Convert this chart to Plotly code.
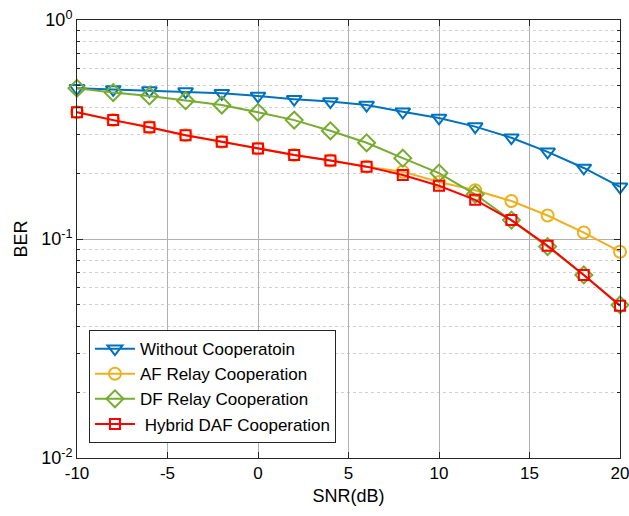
import plotly.graph_objects as go

snr = [-10, -8, -6, -4, -2, 0, 2, 4, 6, 8, 10, 12, 14, 16, 18, 20]
ber_without = [0.488, 0.482, 0.476, 0.471, 0.463, 0.450, 0.435, 0.424, 0.409, 0.381, 0.357, 0.326, 0.290, 0.250, 0.211, 0.173]
ber_af = [0.379, 0.349, 0.324, 0.298, 0.278, 0.259, 0.242, 0.228, 0.214, 0.203, 0.182, 0.167, 0.149, 0.128, 0.107, 0.0875]
ber_df = [0.488, 0.466, 0.450, 0.428, 0.409, 0.379, 0.349, 0.312, 0.275, 0.234, 0.200, 0.160, 0.122, 0.0923, 0.0685, 0.050]
ber_hybrid = [0.379, 0.349, 0.324, 0.298, 0.278, 0.259, 0.242, 0.228, 0.214, 0.196, 0.175, 0.151, 0.122, 0.0932, 0.0685, 0.0496]

names = ["Without Cooperatoin", "AF Relay Cooperation", "DF Relay Cooperation", " Hybrid DAF Cooperation"]
colors = ["#0072BD", "#EDB120", "#77AC30", "#FF0000"]
symbols = ["triangle-down-open", "circle-open", "diamond-open", "square-open"]
sizes = [13, 12, 13, 10]

x_ticks = [-10, -5, 0, 5, 10, 15, 20]
x_ticktext = ["-10", "-5", "0", "5", "10", "15", "20"]
y_ticks = [0.01, 0.1, 1]
y_ticktext = ["10<sup>-2</sup>", "10<sup>-1</sup>", "10<sup>0</sup>"]
y_minor = [m * 10 ** e for e in (-2, -1) for m in range(2, 10)]

fig = go.Figure()
for ys, nm, c, s, sz in zip([ber_without, ber_af, ber_df, ber_hybrid], names, colors, symbols, sizes):
    fig.add_trace(go.Scatter(
        x=snr, y=ys, name=nm, mode="lines+markers", cliponaxis=False,
        line=dict(color=c, width=2),
        marker=dict(symbol=s, size=sz, color=c, line=dict(width=2, color=c)),
    ))

font = "Liberation Sans, Arial, sans-serif"
fig.update_layout(
    width=629, height=516,
    margin=dict(l=77, r=9, t=20, b=58, autoexpand=False),
    paper_bgcolor="white", plot_bgcolor="white",
    font=dict(family=font, color="#262626"),
    showlegend=True,
    legend=dict(
        x=0.022, y=0.034, xanchor="left", yanchor="bottom",
        bgcolor="white", bordercolor="#262626", borderwidth=1,
        font=dict(size=17, family=font, color="#000000"),
        tracegroupgap=0, itemwidth=40,
    ),
)
fig.update_xaxes(
    range=[-10, 20], tickvals=x_ticks, ticktext=x_ticktext, automargin=False,
    ticklabeloverflow="allow",
    showline=True, linecolor="#262626", linewidth=1, mirror="ticks",
    ticks="inside", ticklen=6, tickcolor="#262626",
    showgrid=True, gridcolor="#b0b0b0", gridwidth=1,
    zeroline=False,
    tickfont=dict(size=17, color="#000000"),
    title=dict(text="SNR(dB)", font=dict(size=18, color="#000000"), standoff=6),
)
fig.update_yaxes(
    type="log", range=[-2, 0], tickvals=y_ticks, ticktext=y_ticktext, automargin=False,
    ticklabeloverflow="allow",
    showline=True, linecolor="#262626", linewidth=1, mirror="ticks",
    ticks="inside", ticklen=6, tickcolor="#262626",
    showgrid=True, gridcolor="#b0b0b0", gridwidth=1,
    zeroline=False,
    minor=dict(tickvals=y_minor, ticks="inside", ticklen=3, tickcolor="#262626",
               showgrid=True, gridcolor="#d0d0d0", griddash="dot", gridwidth=1),
    tickfont=dict(size=18, color="#000000"),
    title=dict(text="BER", font=dict(size=18, color="#000000"), standoff=8),
)
fig.write_html(
    "out.html",
    config={"displayModeBar": False},
    post_script="document.body.style.margin='0';document.body.style.overflow='hidden';",
)
